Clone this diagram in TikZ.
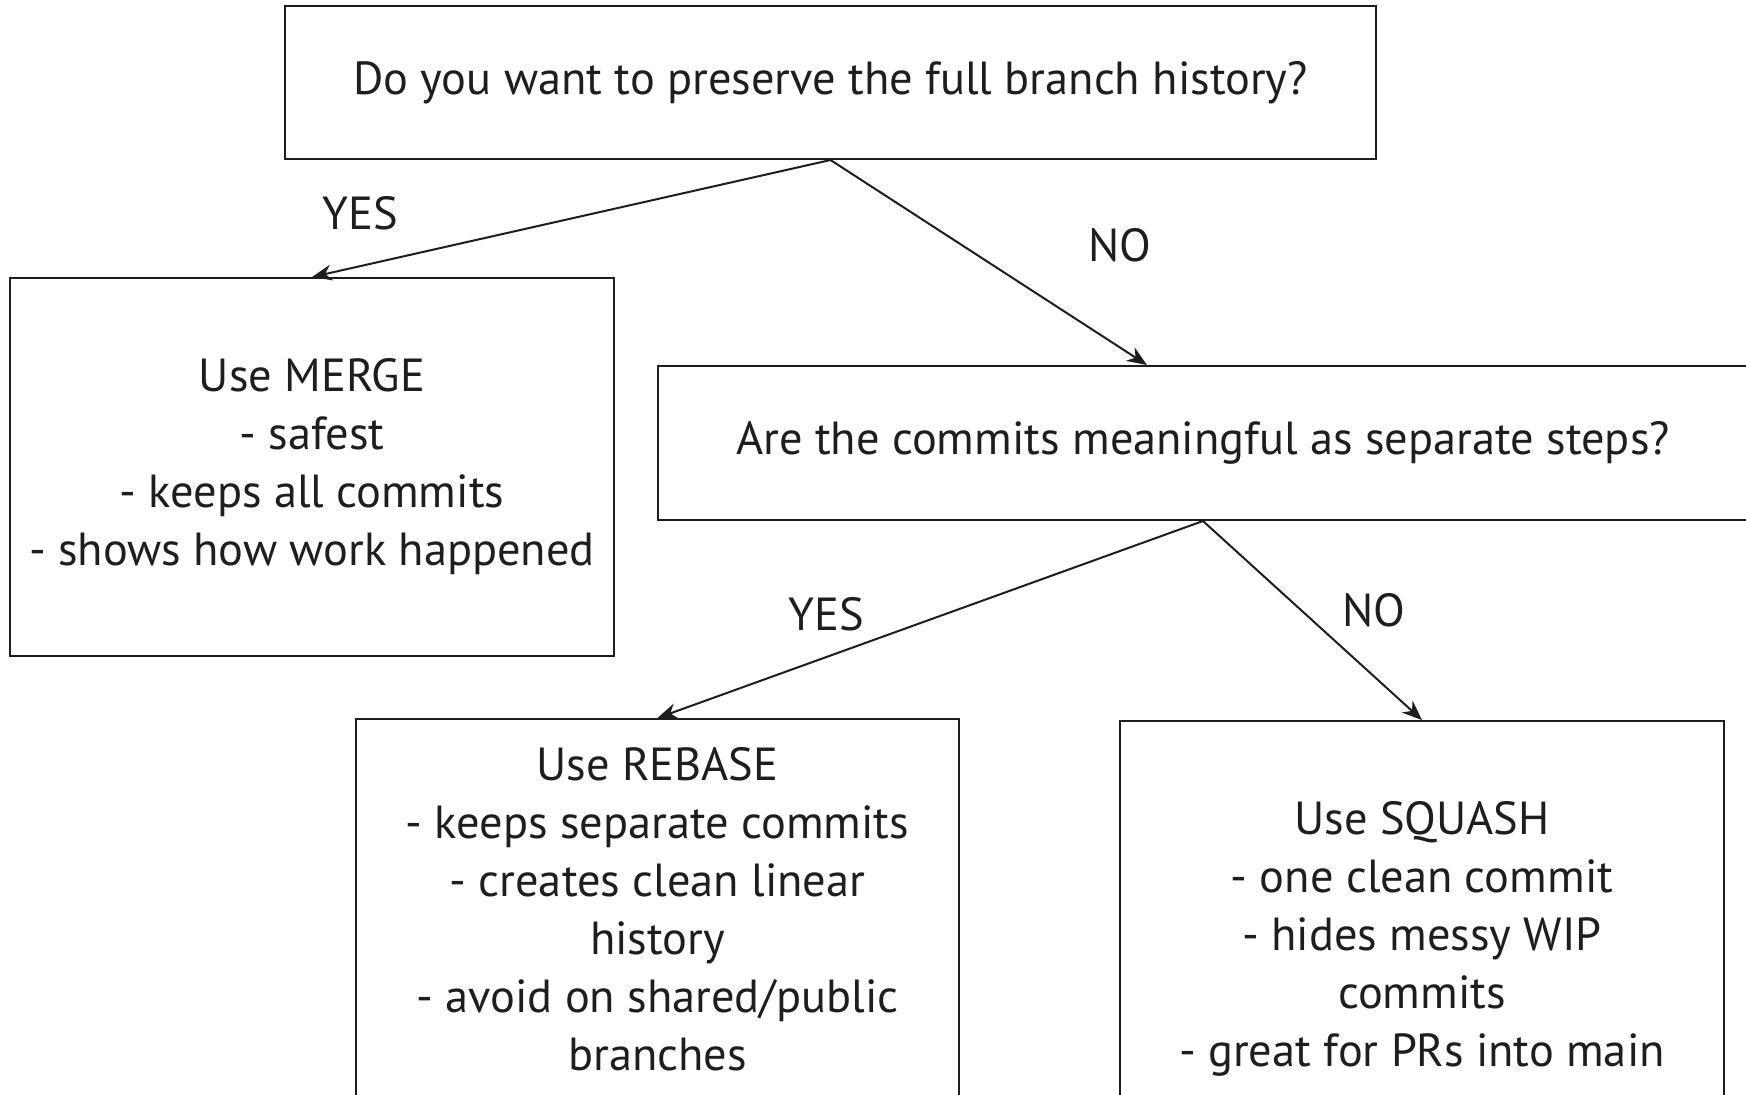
\documentclass[tikz,border=0pt]{standalone}
\usepackage{fontspec}
\setmainfont{PT Sans}
\usepackage{xcolor}
\usetikzlibrary{arrows.meta}

\definecolor{ink}{RGB}{30,30,30}
\newcommand{\chartfont}{\fontsize{23.2}{29}\selectfont}

\tikzset{
    box/.style={rectangle, draw=ink, line width=1pt, text=ink, align=center, inner sep=0pt, font=\chartfont},
    answer/.style={text=ink, font=\chartfont},
    flow/.style={draw=ink, line width=1pt, -{Stealth[length=10pt, width=8pt]}}
}

\begin{document}
\begin{tikzpicture}[x=0.5pt, y=-0.5pt]
        \useasboundingbox (0, 0) rectangle (1746, 1094);

        \node[box, minimum width=545.5pt, minimum height=76.5pt] at (830.5, 82.5) (history) {Do you want to preserve the full branch history?};
        \node[box, minimum width=302pt, minimum height=189pt] at (312, 467) (merge) {Use MERGE\\- safest\\- keeps all commits\\- shows how work happened};
        \node[box, minimum width=545pt, minimum height=77pt] at (1203, 443) (steps) {Are the commits meaningful as separate steps?};
        \node[box, minimum width=301.5pt, minimum height=190pt] at (657.5, 909) (rebase) {Use REBASE\\- keeps separate commits\\- creates clean linear\\history\\- avoid on shared/public\\branches};
        \node[box, minimum width=302pt, minimum height=218pt] at (1422, 939) (squash) {Use SQUASH\\- one clean commit\\- hides messy WIP\\commits\\- great for PRs into main};

        \draw[flow] (history.south) to (merge.north);
        \draw[flow] (history.south) to ([xshift=-28pt]steps.north);
        \draw[flow] (steps.south) to (rebase.north);
        \draw[flow] (steps.south) to (squash.north);

        \node[answer] at (360, 213) (yesmerge) {YES};
        \node[answer] at (1120, 245) (nosteps) {NO};
        \node[answer] at (826, 614) (yesrebase) {YES};
        \node[answer] at (1374, 610) (nosquash) {NO};
    \end{tikzpicture}
\end{document}
